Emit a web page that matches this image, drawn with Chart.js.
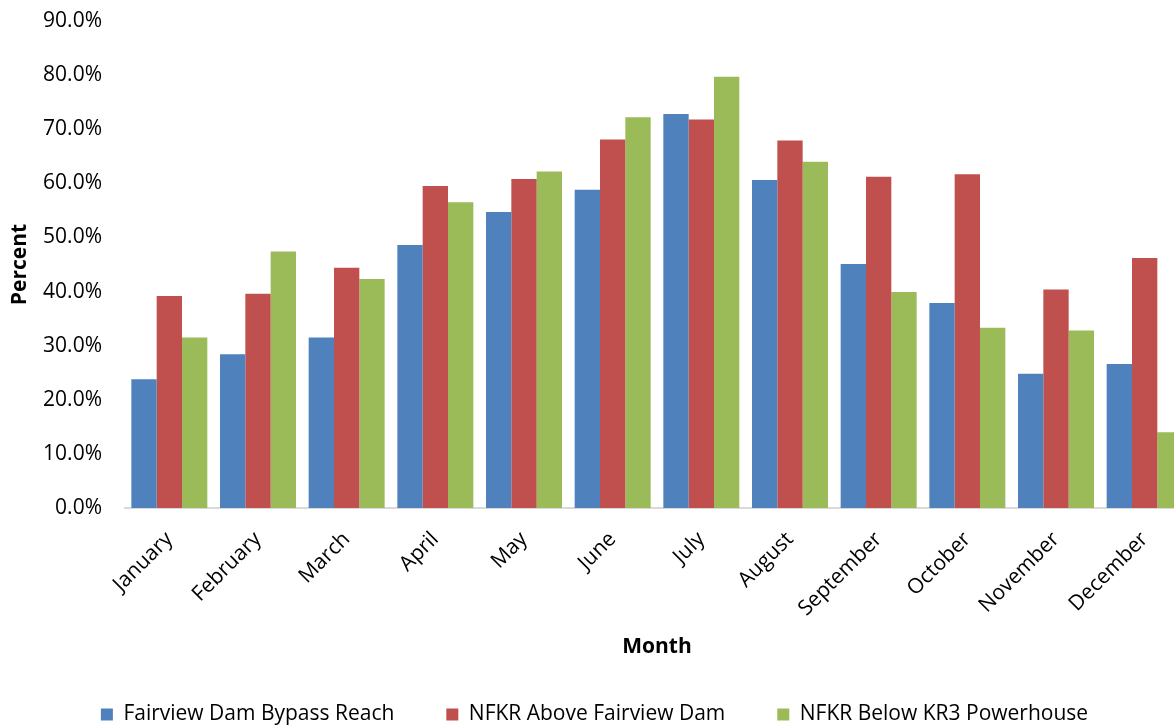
<!DOCTYPE html>
<html>
<head>
<meta charset="utf-8">
<script src="https://cdn.jsdelivr.net/npm/chart.js@4.4.1/dist/chart.umd.min.js"></script>
<style>
  html, body { margin: 0; padding: 0; background: #fff; overflow: hidden; width: 1174px; height: 727px; }
  #wrap { position: absolute; left: 0; top: 0; width: 1200px; height: 735px; }
</style>
</head>
<body>
<div id="wrap"><canvas id="c" width="1200" height="735"></canvas></div>
<script>
const months = ["January","February","March","April","May","June","July","August","September","October","November","December"];
const seriesNames = ["Fairview Dam Bypass Reach","NFKR Above Fairview Dam","NFKR Below KR3 Powerhouse"];
const bypassReach = [23.8, 28.4, 31.5, 48.6, 54.7, 58.8, 72.8, 60.6, 45.1, 37.9, 24.8, 26.6];
const aboveDam    = [39.2, 39.6, 44.4, 59.5, 60.8, 68.1, 71.8, 67.9, 61.2, 61.7, 40.4, 46.2];
const belowKR3    = [31.5, 47.4, 42.3, 56.5, 62.2, 72.2, 79.7, 64.0, 39.9, 33.3, 32.8, 14.0];
const yTicks = [0, 10, 20, 30, 40, 50, 60, 70, 80, 90];
const colors = ["#4F81BD", "#C0504D", "#9BBB59"];
const FONT = "'Open Sans', 'DejaVu Sans', sans-serif";

const data = {
  labels: months,
  datasets: [bypassReach, aboveDam, belowKR3].map((vals, i) => ({
    label: seriesNames[i],
    data: vals,
    backgroundColor: colors[i],
    borderWidth: 0,
    categoryPercentage: 0.857,
    barPercentage: 1.0
  }))
};

new Chart(document.getElementById('c'), {
  type: 'bar',
  data: data,
  options: {
    responsive: false,
    animation: false,
    layout: { padding: { top: 21, right: 11, bottom: 0, left: 0 } },
    plugins: {
      tooltip: { enabled: false },
      legend: {
        position: 'bottom',
        labels: {
          boxWidth: 12,
          boxHeight: 12,
          padding: 52,
          color: '#000',
          font: { family: FONT, size: 21 }
        }
      }
    },
    scales: {
      x: {
        grid: { display: false, drawTicks: false },
        border: { display: true, color: '#d9d9d9', width: 2 },
        ticks: {
          minRotation: 45, maxRotation: 45,
          autoSkip: false,
          padding: 19,
          color: '#000',
          font: { family: FONT, size: 21 }
        },
        title: {
          display: true, text: 'Month', color: '#000',
          padding: { top: 0, bottom: -8 },
          font: { family: FONT, size: 21, weight: 'bold' }
        },
        afterFit: (s) => { s.height = 144; }
      },
      y: {
        min: 0, max: 90,
        grid: { display: false, drawTicks: false },
        border: { display: false },
        afterBuildTicks: (s) => { s.ticks = yTicks.map(v => ({ value: v })); },
        ticks: {
          padding: 23,
          color: '#000',
          font: { family: FONT, size: 21 },
          callback: (v) => Number(v).toFixed(1) + '%'
        },
        title: {
          display: true, text: 'Percent', color: '#000',
          padding: { top: 7, bottom: 0 },
          font: { family: FONT, size: 21, weight: 'bold' }
        },
        afterFit: (s) => { s.width = 125; s.paddingTop = 0; s.paddingBottom = 0; }
      }
    }
  }
});
</script>
</body>
</html>
